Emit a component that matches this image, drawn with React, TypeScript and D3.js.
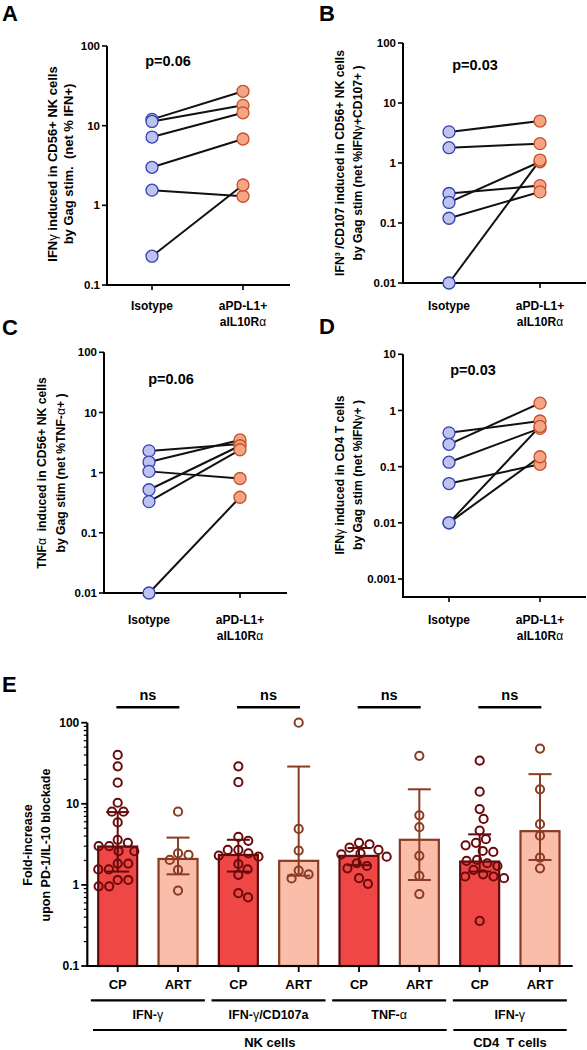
import React from 'react';
import * as d3 from 'd3';

const FONT = '"Liberation Sans", Arial, Helvetica, sans-serif';

// ---------- Panels A-D (paired) ----------
const pairedCategories = ['Isotype', 'aPD-L1+ aIL10Rα'];

const aIsotype = [12, 11.3, 7.2, 3.0, 1.55, 0.23];
const aTreated = [27, 18, 14.5, 6.8, 1.3, 1.8];
const aTicks = [0.1, 1, 10, 100];

const bIsotype = [3.3, 1.8, 0.31, 0.22, 0.12, 0.01];
const bTreated = [5.0, 2.1, 0.42, 1.05, 0.33, 1.12];
const bTicks = [0.01, 0.1, 1, 10, 100];

const cIsotype = [2.3, 1.5, 1.05, 0.52, 0.33, 0.01];
const cTreated = [3.0, 3.5, 0.8, 2.8, 2.4, 0.39];
const cTicks = [0.01, 0.1, 1, 10, 100];

const dIsotype = [0.4, 0.25, 0.12, 0.05, 0.01, 0.01];
const dTreated = [0.65, 1.35, 0.48, 0.11, 0.15, 0.52];
const dTicks = [0.001, 0.01, 0.1, 1, 10];

const pValues = ['p=0.06', 'p=0.03', 'p=0.06', 'p=0.03'];

// ---------- Panel E ----------
const eCategories = ['CP-1', 'ART-1', 'CP-2', 'ART-2', 'CP-3', 'ART-3', 'CP-4', 'ART-4'];
const eTickLabels = ['CP', 'ART', 'CP', 'ART', 'CP', 'ART', 'CP', 'ART'];
const eGroupLabels = ['IFN-γ', 'IFN-γ/CD107a', 'TNF-α', 'IFN-γ'];
const eCellLabels = ['NK cells', 'CD4  T cells'];
const eBarValues = [2.97, 2.09, 2.34, 1.98, 2.28, 3.6, 1.94, 4.6];
const eErrLow = [1.46, 1.35, 1.46, 1.3, 1.75, 1.15, 1.46, 2.03];
const eErrHigh = [7.9, 3.83, 3.6, 28.8, 2.85, 15.1, 4.2, 23.2];
const eTicks = [0.1, 1, 10, 100];

const cp1 = [40, 29, 18.2, 10.3, 8.0, 8.0, 5.9, 3.6, 3.3, 3.0, 3.0, 2.6, 2.6, 1.83, 1.83, 1.55, 1.55, 1.15, 1.15, 0.96, 0.96];
const art1 = [8.0, 2.45, 2.35, 2.03, 1.53, 0.85];
const cp2 = [29, 18.5, 3.9, 3.5, 2.7, 2.7, 2.45, 2.3, 2.23, 1.81, 1.56, 1.33, 0.79, 0.7];
const art2 = [100, 4.9, 2.65, 1.5, 1.35, 1.2];
const cp3 = [3.3, 3.17, 2.88, 2.7, 2.45, 2.38, 2.23, 1.85, 1.71, 1.6, 1.21, 1.03];
const art3 = [39, 7.2, 5.15, 2.28, 1.29, 0.77];
const cp4 = [34, 14.1, 8.6, 6.5, 4.67, 3.66, 3.3, 3.08, 2.62, 2.55, 2.03, 1.98, 1.85, 1.71, 1.53, 1.35, 1.27, 1.27, 1.21, 0.36];
const art4 = [48, 15.1, 5.6, 4.05, 2.17, 1.6];
const ePoints = [cp1, art1, cp2, art2, cp3, art3, cp4, art4];

// ---------- colours ----------
const ISO_FILL = '#bec2ec';
const ISO_STROKE = '#3142b4';
const TRT_FILL = '#f5a584';
const TRT_STROKE = '#c4512a';
const CP_FILL = '#ef4646';
const CP_STROKE = '#5e0b0b';
const ART_FILL = '#f9bda9';
const ART_STROKE = '#8a3b23';

const fmt = (v: number) => String(v);

function Greek({ t }: { t: string }) {
  const parts = t.split(/([αγ])/);
  return (
    <>
      {parts.map((p, i) =>
        p === 'α' || p === 'γ' ? (
          <tspan key={i} fontWeight="normal">
            {p}
          </tspan>
        ) : (
          <tspan key={i}>{p}</tspan>
        )
      )}
    </>
  );
}

type PanelProps = {
  letter: string;
  letterX: number;
  letterY: number;
  axisX: number;
  axisRight: number;
  yTop: number;
  yBottom: number;
  xAxisY: number;
  domain: [number, number];
  ticks: number[];
  iso: number[];
  trt: number[];
  xs: [number, number];
  pText: string;
  pX: number;
  pY: number;
  title1: string;
  title2: string;
  t1x: number;
  t2x: number;
  tcy: number;
  titleSize: number;
  labelY: number;
};

function PairedPanel(p: PanelProps) {
  const y = d3.scaleLog().domain(p.domain).range([p.yBottom, p.yTop]);
  const x = d3.scalePoint<string>().domain(pairedCategories).range(p.xs);
  const x0 = x(pairedCategories[0])!;
  const x1 = x(pairedCategories[1])!;
  return (
    <g>
      <text x={p.letterX} y={p.letterY} fontSize={22} fontWeight="bold">
        {p.letter}
      </text>
      <line x1={p.axisX} x2={p.axisX} y1={p.yTop} y2={p.xAxisY} stroke="#000" strokeWidth={2} />
      {p.ticks.map((t) => (
        <g key={t}>
          <line x1={p.axisX - 5} x2={p.axisX} y1={y(t)} y2={y(t)} stroke="#000" strokeWidth={1.6} />
          <text x={p.axisX - 7} y={y(t)} dy="0.35em" textAnchor="end" fontSize={11.5} fontWeight="bold">
            {fmt(t)}
          </text>
        </g>
      ))}
      <line x1={p.axisX - 1} x2={p.axisRight} y1={p.xAxisY} y2={p.xAxisY} stroke="#000" strokeWidth={2} />
      {[x0, x1].map((xx, i) => (
        <line key={i} x1={xx} x2={xx} y1={p.xAxisY} y2={p.xAxisY + 5} stroke="#000" strokeWidth={1.6} />
      ))}
      <text x={x0} y={p.labelY} dy="0.35em" textAnchor="middle" fontSize={12} fontWeight="bold">
        Isotype
      </text>
      <text x={x1} y={p.labelY} dy="0.35em" textAnchor="middle" fontSize={12} fontWeight="bold">
        aPD-L1+
      </text>
      <text x={x1} y={p.labelY + 16} dy="0.35em" textAnchor="middle" fontSize={12} fontWeight="bold">
        <Greek t="aIL10Rα" />
      </text>
      <g transform={`translate(${p.t1x},${p.tcy}) rotate(-90)`}>
        <text textAnchor="middle" dy="0.35em" fontSize={p.titleSize} fontWeight="bold" style={{ whiteSpace: 'pre' }}>
          <Greek t={p.title1} />
        </text>
      </g>
      <g transform={`translate(${p.t2x},${p.tcy}) rotate(-90)`}>
        <text textAnchor="middle" dy="0.35em" fontSize={p.titleSize} fontWeight="bold" style={{ whiteSpace: 'pre' }}>
          <Greek t={p.title2} />
        </text>
      </g>
      <text x={p.pX} y={p.pY} dy="0.35em" textAnchor="middle" fontSize={14.5} fontWeight="bold">
        {p.pText}
      </text>
      {p.iso.map((v, i) => (
        <line key={i} x1={x0} y1={y(v)} x2={x1} y2={y(p.trt[i])} stroke="#111" strokeWidth={2} />
      ))}
      {p.iso.map((v, i) => (
        <circle key={'i' + i} cx={x0} cy={y(v)} r={6} fill={ISO_FILL} stroke={ISO_STROKE} strokeWidth={1.3} />
      ))}
      {p.trt.map((v, i) => (
        <circle key={'t' + i} cx={x1} cy={y(v)} r={6} fill={TRT_FILL} stroke={TRT_STROKE} strokeWidth={1.3} />
      ))}
    </g>
  );
}

function swarm(values: number[], yf: (v: number) => number, cx: number, d: number) {
  const placed: { x: number; y: number }[] = [];
  const sorted = values.map((v) => ({ v, y: yf(v) })).sort((a, b) => a.y - b.y);
  for (const p of sorted) {
    const cands = [0];
    for (const q of placed) {
      const dy = Math.abs(q.y - p.y);
      if (dy < d) {
        const dx = Math.sqrt(d * d - dy * dy);
        cands.push(q.x - cx + dx, q.x - cx - dx);
      }
    }
    cands.sort((a, b) => Math.abs(a) - Math.abs(b));
    for (const c of cands) {
      const xx = cx + c;
      if (placed.every((q) => (q.x - xx) ** 2 + (q.y - p.y) ** 2 >= d * d - 0.05)) {
        placed.push({ x: xx, y: p.y });
        break;
      }
    }
  }
  return placed;
}

function PanelE() {
  const yTop = 722.7;
  const yBot = 966;
  const axisX = 87.3;
  const y = d3.scaleLog().domain([0.1, 100]).range([yBot, yTop]);
  const x = d3.scalePoint<string>().domain(eCategories).range([117.7, 540]);
  const barW = 39;
  const minor: number[] = [];
  [0.1, 1, 10].forEach((dec) => {
    for (let k = 2; k <= 9; k++) minor.push(dec * k);
  });
  return (
    <g>
      <text x={2} y={692} fontSize={22} fontWeight="bold">
        E
      </text>
      {eCategories.map((c, i) => {
        const cp = i % 2 === 0;
        const cx = x(c)!;
        return (
          <rect
            key={c}
            x={cx - barW / 2}
            y={y(eBarValues[i])}
            width={barW}
            height={yBot - y(eBarValues[i])}
            fill={cp ? CP_FILL : ART_FILL}
            stroke={cp ? CP_STROKE : ART_STROKE}
            strokeWidth={2.2}
          />
        );
      })}
      {eCategories.map((c, i) => {
        const cp = i % 2 === 0;
        const cx = x(c)!;
        const col = cp ? CP_STROKE : ART_STROKE;
        return (
          <g key={'e' + c} stroke={col} strokeWidth={2}>
            <line x1={cx} x2={cx} y1={y(eErrLow[i])} y2={y(eErrHigh[i])} />
            <line x1={cx - 11.5} x2={cx + 11.5} y1={y(eErrHigh[i])} y2={y(eErrHigh[i])} />
            <line x1={cx - 11.5} x2={cx + 11.5} y1={y(eErrLow[i])} y2={y(eErrLow[i])} />
          </g>
        );
      })}
      {eCategories.map((c, i) => {
        const cp = i % 2 === 0;
        const cx = x(c)!;
        const pts = swarm(ePoints[i], (v) => y(v), cx, 10.6);
        return (
          <g key={'p' + c}>
            {pts.map((p, j) => (
              <circle key={j} cx={p.x} cy={p.y} r={4.1} fill="none" stroke={cp ? '#6a0a0a' : ART_STROKE} strokeWidth={2} />
            ))}
          </g>
        );
      })}
      <line x1={axisX} x2={axisX} y1={yTop} y2={yBot} stroke="#000" strokeWidth={2.2} />
      {eTicks.map((t) => (
        <g key={t}>
          <line x1={axisX - 6} x2={axisX} y1={y(t)} y2={y(t)} stroke="#000" strokeWidth={1.8} />
          <text x={axisX - 8} y={y(t)} dy="0.35em" textAnchor="end" fontSize={12} fontWeight="bold">
            {fmt(t)}
          </text>
        </g>
      ))}
      {minor.map((t) => (
        <line key={'m' + t} x1={axisX - 3.5} x2={axisX} y1={y(t)} y2={y(t)} stroke="#000" strokeWidth={1.2} />
      ))}
      <g transform={`translate(28,845) rotate(-90)`}>
        <text textAnchor="middle" dy="0.35em" fontSize={12.5} fontWeight="bold">
          Fold-increase
        </text>
      </g>
      <g transform={`translate(46,845) rotate(-90)`}>
        <text textAnchor="middle" dy="0.35em" fontSize={12.5} fontWeight="bold">
          upon PD-1/IL-10 blockade
        </text>
      </g>
      <line x1={axisX - 1} x2={572.7} y1={yBot} y2={yBot} stroke="#000" strokeWidth={2.2} />
      {eCategories.map((c, i) => (
        <g key={'t' + c}>
          <line x1={x(c)!} x2={x(c)!} y1={yBot} y2={yBot + 6} stroke="#000" strokeWidth={1.8} />
          <text x={x(c)!} y={984} dy="0.35em" textAnchor="middle" fontSize={13} fontWeight="bold">
            {eTickLabels[i]}
          </text>
        </g>
      ))}
      {eGroupLabels.map((g, k) => {
        const c = (x(eCategories[2 * k])! + x(eCategories[2 * k + 1])!) / 2;
        return (
          <g key={'g' + k}>
            <line x1={c - 57} x2={c + 57} y1={1000.3} y2={1000.3} stroke="#000" strokeWidth={2.2} />
            <text x={c} y={1015} dy="0.35em" textAnchor="middle" fontSize={12.5} fontWeight="bold">
              <Greek t={g} />
            </text>
            <line x1={c - 31.5} x2={c + 31.5} y1={707.3} y2={707.3} stroke="#000" strokeWidth={2.6} />
            <text x={c} y={695} dy="0.35em" textAnchor="middle" fontSize={14.5} fontWeight="bold">
              ns
            </text>
          </g>
        );
      })}
      {[
        [93, 446.7],
        [453.3, 566.7],
      ].map(([a, b], k) => (
        <g key={'c' + k}>
          <line x1={a} x2={b} y1={1030} y2={1030} stroke="#000" strokeWidth={2.2} />
          <text x={(a + b) / 2} y={1042.5} dy="0.35em" textAnchor="middle" fontSize={13} fontWeight="bold" style={{ whiteSpace: 'pre' }}>
            {eCellLabels[k]}
          </text>
        </g>
      ))}
    </g>
  );
}

export default function App() {
  return (
    <svg
      width={587}
      height={1050}
      style={{ position: 'absolute', left: 0, top: 0, background: '#fff' }}
      fontFamily={FONT}
    >
      <rect width={587} height={1050} fill="#fff" />
      <PairedPanel
        letter="A"
        letterX={2}
        letterY={21}
        axisX={107}
        axisRight={290}
        yTop={46}
        yBottom={285}
        xAxisY={285}
        domain={[0.1, 100]}
        ticks={aTicks}
        iso={aIsotype}
        trt={aTreated}
        xs={[152, 243]}
        pText={pValues[0]}
        pX={168}
        pY={61}
        title1="IFNγ induced in CD56+ NK cells"
        title2="by Gag stim.  (net % IFN+)"
        t1x={52}
        t2x={68}
        tcy={164}
        titleSize={13}
        labelY={306}
      />
      <PairedPanel
        letter="B"
        letterX={319}
        letterY={21}
        axisX={403}
        axisRight={586}
        yTop={43}
        yBottom={283}
        xAxisY={283}
        domain={[0.01, 100]}
        ticks={bTicks}
        iso={bIsotype}
        trt={bTreated}
        xs={[449, 540]}
        pText={pValues[1]}
        pX={475}
        pY={65}
        title1="IFN³ /CD107 induced in CD56+ NK cells"
        title2="by Gag stim (net %IFNγ+CD107+ )"
        t1x={340}
        t2x={358}
        tcy={163}
        titleSize={12.2}
        labelY={306}
      />
      <PairedPanel
        letter="C"
        letterX={2}
        letterY={335}
        axisX={104}
        axisRight={287}
        yTop={352.3}
        yBottom={593}
        xAxisY={593}
        domain={[0.01, 100]}
        ticks={cTicks}
        iso={cIsotype}
        trt={cTreated}
        xs={[149, 240]}
        pText={pValues[2]}
        pX={171}
        pY={379}
        title1="TNFα  induced in CD56+ NK cells"
        title2="by Gag stim (net %TNF-α+ )"
        t1x={42}
        t2x={61}
        tcy={473}
        titleSize={12.2}
        labelY={620}
      />
      <PairedPanel
        letter="D"
        letterX={319}
        letterY={334}
        axisX={403}
        axisRight={586}
        yTop={354.3}
        yBottom={579}
        xAxisY={597}
        domain={[0.001, 10]}
        ticks={dTicks}
        iso={dIsotype}
        trt={dTreated}
        xs={[449, 540]}
        pText={pValues[3]}
        pX={473}
        pY={370}
        title1="IFNγ induced in CD4 T cells"
        title2="by Gag stim (net %IFNγ+ )"
        t1x={340}
        t2x={358}
        tcy={475}
        titleSize={12.2}
        labelY={620}
      />
      <PanelE />
    </svg>
  );
}
